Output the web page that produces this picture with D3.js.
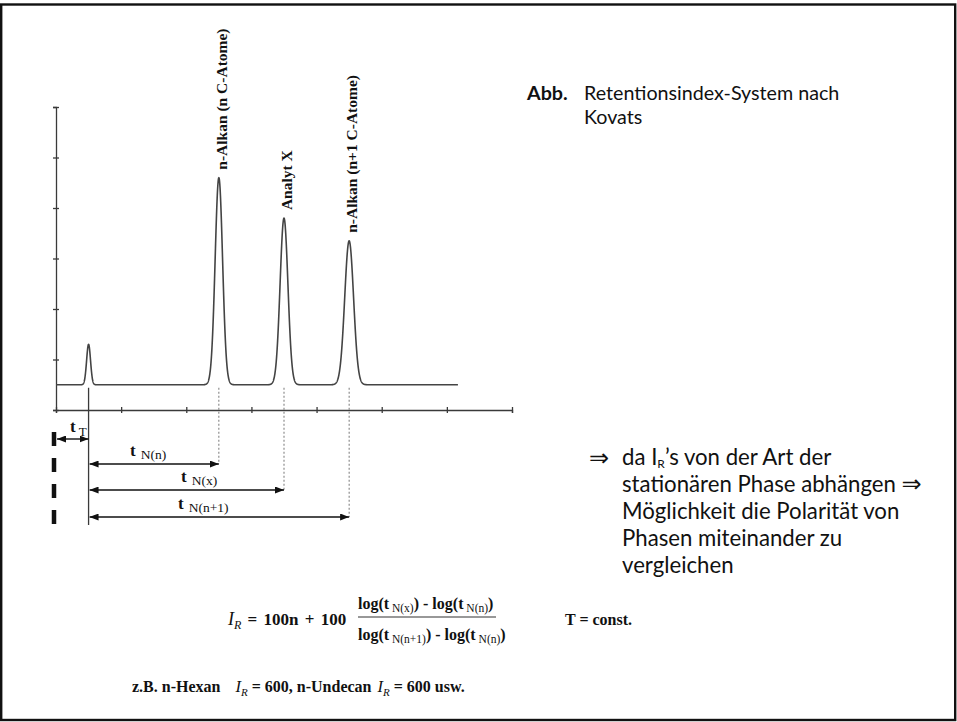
<!DOCTYPE html>
<html>
<head>
<meta charset="utf-8">
<script src="https://cdn.jsdelivr.net/npm/d3@7"></script>
<style>
  html, body { margin: 0; padding: 0; background: #fff; }
  svg { display: block; }
  .serif { font-family: "Liberation Serif", "Times New Roman", serif; }
  .sans { font-family: Lato, "Open Sans", sans-serif; }
</style>
</head>
<body>
<svg id="chart" width="957" height="722"></svg>
<script>
// Chromatogram peaks: dead-time peak, n-alkane (n C), analyte X, n-alkane (n+1 C)
const peakNames   = ["", "n-Alkan (n C-Atome)", "Analyt X", "n-Alkan (n+1 C-Atome)"];
const peakTimes   = [0.5, 2.5, 3.5, 4.5];
const peakHeights = [1.3, 4.6, 3.8, 3.35];
const peakSigmas  = [0.03, 0.057, 0.06, 0.068];
const baselineLevel = 0.5;
const traceStart = 0;
const traceEnd = 6.17;

// Axis ticks (unlabelled)
const xTicks = [0, 1, 2, 3, 4, 5, 6, 7];
const yTicks = [0, 1, 2, 3, 4, 5, 6];

// Retention-time arrows: label, subscript, end time
const rtLabels = ["t", "t", "t"];
const rtSubs   = ["N(n)", "N(x)", "N(n+1)"];
const rtEnds   = [2.5, 3.5, 4.5];

const svg = d3.select("#chart");
const ink = "#3a3a3a";

// frame
svg.append("rect")
  .attr("x", 1.2).attr("y", 4.5).attr("width", 954).attr("height", 715.5)
  .attr("fill", "none").attr("stroke", "#111").attr("stroke-width", 2.4);

const x = d3.scaleLinear().domain([0, 7]).range([56, 512]);
const y = d3.scaleLinear().domain([0, 6]).range([410, 107]);

// axes
const gx = svg.append("g").attr("transform", `translate(0,${y(0)})`)
  .call(d3.axisBottom(x).tickValues(xTicks).tickFormat("").tickSizeOuter(0).tickSize(3));
gx.selectAll(".tick line").attr("y1", -3).attr("y2", 3);
const gy = svg.append("g").attr("transform", `translate(${x(0)},0)`)
  .call(d3.axisLeft(y).tickValues(yTicks).tickFormat("").tickSizeOuter(0).tickSize(3));
gy.selectAll(".tick line").attr("x1", -3).attr("x2", 3);
svg.selectAll(".domain, .tick line").attr("stroke", ink).attr("stroke-width", 1.3);

// detector trace: baseline plus Gaussian peaks
function signal(t) {
  let v = baselineLevel;
  for (let i = 0; i < peakTimes.length; i++) {
    const d = (t - peakTimes[i]) / peakSigmas[i];
    v += (peakHeights[i] - baselineLevel) * Math.exp(-0.5 * d * d);
  }
  return v;
}
const ts = d3.range(traceStart, traceEnd, 0.002).concat([traceEnd]);
svg.append("path")
  .datum(ts)
  .attr("fill", "none").attr("stroke", "#444").attr("stroke-width", 1.6)
  .attr("stroke-linejoin", "round")
  .attr("d", d3.line().x(t => x(t)).y(t => y(signal(t))));

// peak labels (rotated)
peakNames.forEach((name, i) => {
  if (!name) return;
  const px = x(peakTimes[i]) + 8;
  const py = y(peakHeights[i]) - 8;
  svg.append("text").attr("class", "serif")
    .attr("transform", `translate(${px},${py}) rotate(-90)`)
    .attr("font-size", 15.5).attr("font-weight", "bold").attr("fill", "#111")
    .text(name);
});

// arrow markers
const defs = svg.append("defs");
defs.append("marker").attr("id", "ah")
  .attr("viewBox", "0 0 9 7").attr("refX", 9).attr("refY", 3.5)
  .attr("markerWidth", 9).attr("markerHeight", 7)
  .attr("markerUnits", "userSpaceOnUse").attr("orient", "auto-start-reverse")
  .append("path").attr("d", "M0,0 L9,3.5 L0,7 Z").attr("fill", "#111");

const t0x = x(peakTimes[0]);

// dead-time vertical line
svg.append("line").attr("x1", t0x).attr("x2", t0x).attr("y1", y(baselineLevel) + 3).attr("y2", 525)
  .attr("stroke", ink).attr("stroke-width", 1.3);

// thick dashed start marker
svg.append("line").attr("x1", 54).attr("x2", 54).attr("y1", 432).attr("y2", 524)
  .attr("stroke", "#111").attr("stroke-width", 4.5).attr("stroke-dasharray", "14,12");

// dead-time arrow
svg.append("line").attr("x1", x(0) + 1).attr("x2", t0x).attr("y1", 439).attr("y2", 439)
  .attr("stroke", "#111").attr("stroke-width", 1.4)
  .attr("marker-start", "url(#ah)").attr("marker-end", "url(#ah)");
const tT = svg.append("text").attr("class", "serif").attr("x", 70).attr("y", 432).attr("fill", "#111");
tT.append("tspan").attr("font-size", 17).attr("font-weight", "bold").text("t");
tT.append("tspan").attr("font-size", 13).attr("dx", 3).attr("dy", 4).text("T");

// retention-time arrows
const rowY = [464, 490, 517];
const labX = [130, 181, 178];
rtEnds.forEach((te, i) => {
  const ex = x(te);
  svg.append("line").attr("x1", ex).attr("x2", ex).attr("y1", y(baselineLevel) + 3).attr("y2", rowY[i])
    .attr("stroke", "#777").attr("stroke-width", 1).attr("stroke-dasharray", "2,2");
  svg.append("line").attr("x1", t0x + 1).attr("x2", ex).attr("y1", rowY[i]).attr("y2", rowY[i])
    .attr("stroke", "#111").attr("stroke-width", 1.4)
    .attr("marker-start", "url(#ah)").attr("marker-end", "url(#ah)");
  const lt = svg.append("text").attr("class", "serif").attr("x", labX[i]).attr("y", rowY[i] - 8).attr("fill", "#111");
  lt.append("tspan").attr("font-size", 17).attr("font-weight", "bold").text(rtLabels[i]);
  lt.append("tspan").attr("font-size", 13.5).attr("dx", 5).attr("dy", 3).text(rtSubs[i]);
});

// caption
const cap = svg.append("text").attr("class", "sans").attr("y", 100).attr("fill", "#111").attr("font-size", 19.7);
cap.append("tspan").attr("x", 527).attr("font-weight", "bold").text("Abb.");
cap.append("tspan").attr("x", 584).text("Retentionsindex-System nach");
svg.append("text").attr("class", "sans").attr("x", 584).attr("y", 124).attr("fill", "#111")
  .attr("font-size", 19.7).text("Kovats");

// remark block
const remark = svg.append("g").attr("class", "sans").attr("fill", "#111").attr("font-size", 22.2);
remark.append("text").attr("x", 589).attr("y", 466).attr("font-family", "DejaVu Sans").attr("font-size", 24).text("⇒");
const l1 = remark.append("text").attr("x", 622).attr("y", 465);
l1.append("tspan").text("da I");
l1.append("tspan").attr("font-size", 12).attr("dy", 2.5).text("R");
l1.append("tspan").attr("dy", -2.5).text("’s  von der Art der");
const l2 = remark.append("text").attr("x", 622).attr("y", 492);
l2.append("tspan").text("stationären Phase abhängen ");
l2.append("tspan").attr("font-family", "DejaVu Sans").attr("font-size", 24).text("⇒");
remark.append("text").attr("x", 622).attr("y", 519).text("Möglichkeit die Polarität von");
remark.append("text").attr("x", 622).attr("y", 546).text("Phasen miteinander zu");
remark.append("text").attr("x", 622).attr("y", 573).text("vergleichen");

// Kovats formula
const fm = svg.append("g").attr("class", "serif").attr("fill", "#111");
const lhs = fm.append("text").attr("x", 228).attr("y", 625);
lhs.append("tspan").attr("font-style", "italic").attr("font-size", 18).text("I");
lhs.append("tspan").attr("font-style", "italic").attr("font-size", 12).attr("dy", 4).text("R");
lhs.append("tspan").attr("font-size", 17).attr("font-weight", "bold").attr("dy", -4)
  .attr("word-spacing", 2).text(" = 100n + 100");

function logTerm(t, parts) {
  parts.forEach(p => {
    const ts = t.append("tspan").text(p.s);
    if (p.sub) ts.attr("font-size", 11.5).attr("font-weight", "normal").attr("dy", 3);
    else ts.attr("font-size", 16).attr("font-weight", "bold").attr("dy", p.back ? -3 : 0);
  });
}
const fracX = 358;
const num = fm.append("text").attr("x", fracX).attr("y", 609);
logTerm(num, [{s: "log(t"}, {s: " N(x)", sub: 1}, {s: ") - log(t", back: 1}, {s: " N(n)", sub: 1}, {s: ")", back: 1}]);
const den = fm.append("text").attr("x", fracX).attr("y", 640);
logTerm(den, [{s: "log(t"}, {s: " N(n+1)", sub: 1}, {s: ") - log(t", back: 1}, {s: " N(n)", sub: 1}, {s: ")", back: 1}]);
fm.append("line").attr("x1", fracX).attr("x2", fracX + 138).attr("y1", 617).attr("y2", 617)
  .attr("stroke", "#333").attr("stroke-width", 1.2);
fm.append("text").attr("x", 565).attr("y", 625).attr("font-size", 16).attr("font-weight", "bold").text("T = const.");

// example line
const ex = fm.append("text").attr("x", 132).attr("y", 692).attr("font-size", 16).attr("font-weight", "bold");
ex.append("tspan").text("z.B. n-Hexan");
ex.append("tspan").attr("dx", 15).attr("font-style", "italic").attr("font-weight", "normal").attr("font-size", 16.5).text("I");
ex.append("tspan").attr("font-style", "italic").attr("font-weight", "normal").attr("font-size", 11).attr("dy", 4).text("R");
ex.append("tspan").attr("dy", -4).text(" = 600, n-Undecan ");
ex.append("tspan").attr("dx", 2).attr("font-style", "italic").attr("font-weight", "normal").attr("font-size", 16.5).text("I");
ex.append("tspan").attr("font-style", "italic").attr("font-weight", "normal").attr("font-size", 11).attr("dy", 4).text("R");
ex.append("tspan").attr("dy", -4).text(" = 600 usw.");
</script>
</body>
</html>
